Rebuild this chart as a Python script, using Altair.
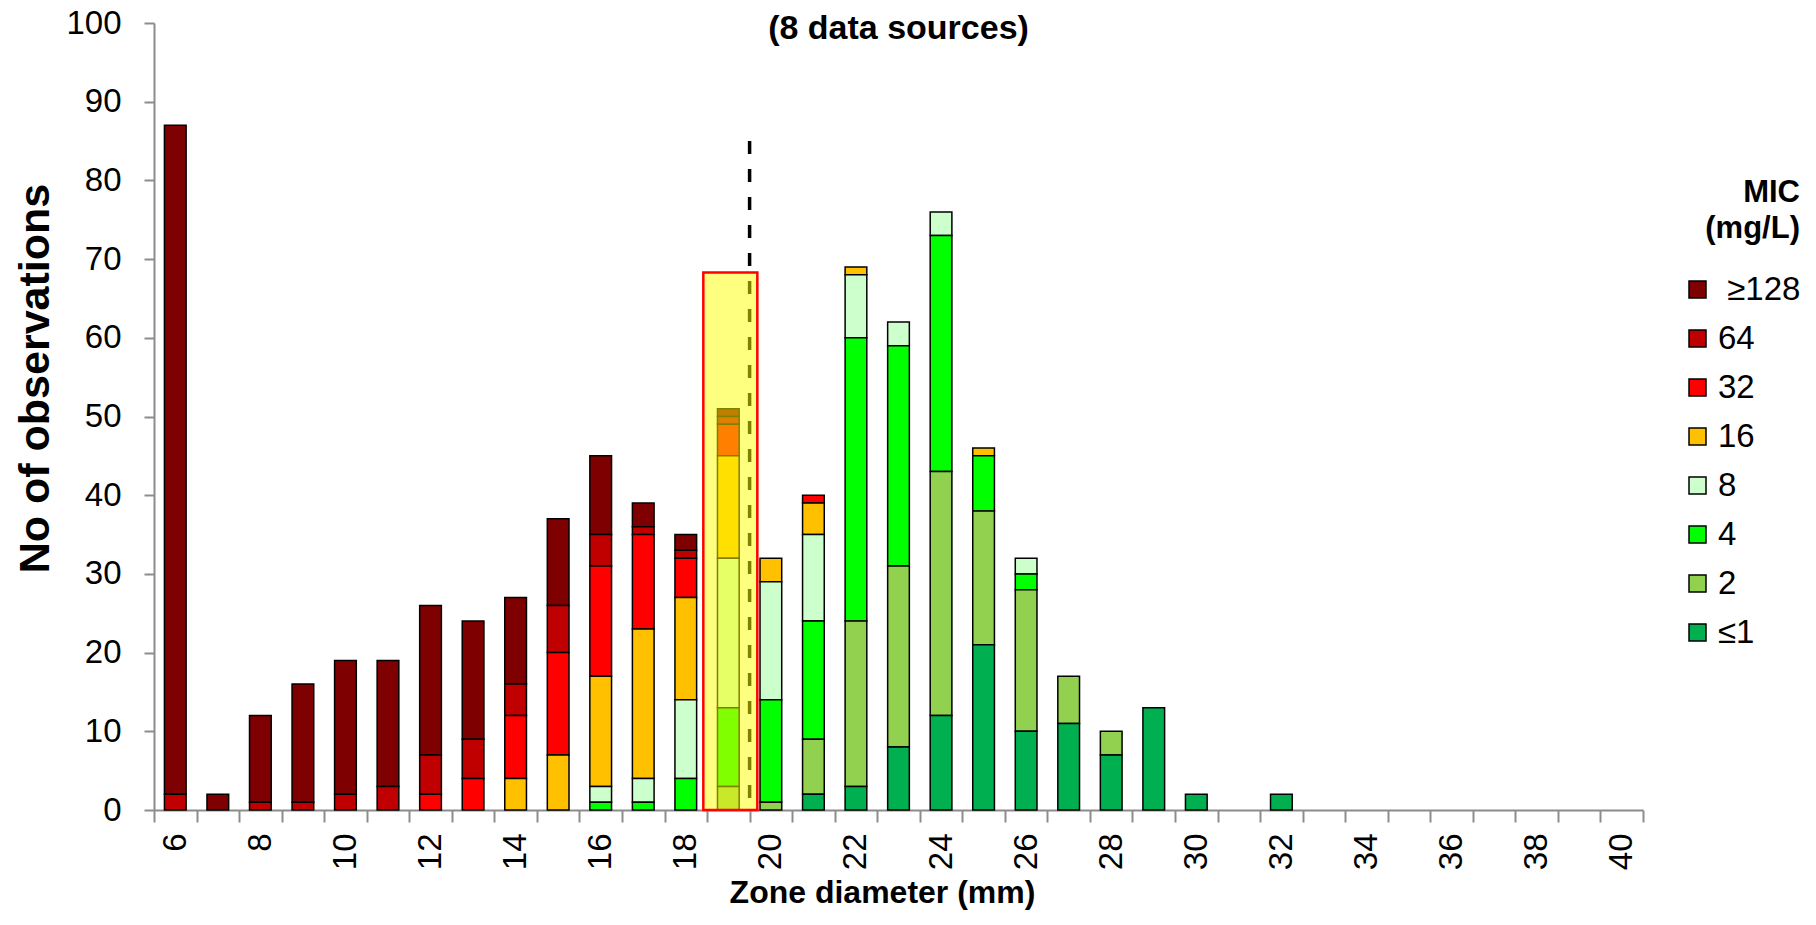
import altair as alt
import pandas as pd

# Zone diameters (mm)
diameters = list(range(6, 41))

# MIC categories (legend order, top to bottom) and colours
mic_labels = ["\u200d\u00a0≥128", "64", "32", "16", "8", "4", "2", "≤1"]
mic_colors = ["#7f0000", "#c00000", "#ff0000", "#ffc000", "#ccffcc", "#00ff00", "#92d050", "#00b050"]

# Counts per diameter 6..40 for each MIC category
n_ge128 = [85, 2, 11, 15, 17, 16, 19, 15, 11, 11, 10, 3, 2, 1, 0, 0, 0, 0, 0, 0, 0, 0, 0, 0, 0, 0, 0] + [0] * 8
n_64    = [2, 0, 1, 1, 2, 3, 5, 5, 4, 6, 4, 1, 1, 1, 0, 0, 0, 0, 0, 0, 0, 0, 0, 0, 0, 0, 0] + [0] * 8
n_32    = [0, 0, 0, 0, 0, 0, 2, 4, 8, 13, 14, 12, 5, 4, 0, 1, 0, 0, 0, 0, 0, 0, 0, 0, 0, 0, 0] + [0] * 8
n_16    = [0, 0, 0, 0, 0, 0, 0, 0, 4, 7, 14, 19, 13, 13, 3, 4, 1, 0, 0, 1, 0, 0, 0, 0, 0, 0, 0] + [0] * 8
n_8     = [0, 0, 0, 0, 0, 0, 0, 0, 0, 0, 2, 3, 10, 19, 15, 11, 8, 3, 3, 0, 2, 0, 0, 0, 0, 0, 0] + [0] * 8
n_4     = [0, 0, 0, 0, 0, 0, 0, 0, 0, 0, 1, 1, 4, 10, 13, 15, 36, 28, 30, 7, 2, 0, 0, 0, 0, 0, 0] + [0] * 8
n_2     = [0, 0, 0, 0, 0, 0, 0, 0, 0, 0, 0, 0, 0, 3, 1, 7, 21, 23, 31, 17, 18, 6, 3, 0, 0, 0, 0] + [0] * 8
n_le1   = [0, 0, 0, 0, 0, 0, 0, 0, 0, 0, 0, 0, 0, 0, 0, 2, 3, 8, 12, 21, 10, 11, 7, 13, 2, 0, 2] + [0] * 8

series = [n_ge128, n_64, n_32, n_16, n_8, n_4, n_2, n_le1]

# Breakpoint line and highlighted zone
breakpoint_diameter = [19]
breakpoint_top = [85]
highlight_diameter = [19]
highlight_top = [68.3]

rows = []
for label, vals in zip(mic_labels, series):
    stack_rank = len(mic_labels) - 1 - mic_labels.index(label)  # ≤1 at bottom
    for d, v in zip(diameters, vals):
        if v > 0:
            rows.append({"diameter": d, "mic": label, "count": v, "rank": stack_rank})
df = pd.DataFrame(rows)

x_scale = alt.Scale(domain=diameters, paddingInner=0, paddingOuter=0)
y_scale = alt.Scale(domain=[0, 100], nice=False)

x_axis = alt.Axis(
    title="Zone diameter (mm)",
    titleFontSize=32, titleFontWeight="bold", titlePadding=8, titleColor="black",
    titleX=728, titleAlign="center",
    labelAngle=270, labelFontSize=33, labelPadding=11, labelColor="black",
    labelExpr="datum.value % 2 == 0 ? datum.label : ''",
    tickBand="extent", tickSize=12, tickColor="#8c8c8c", tickWidth=2,
    domainColor="#8c8c8c", domainWidth=2, grid=False,
)
y_axis = alt.Axis(
    title="No of observations",
    titleFontSize=43, titleFontWeight="bold", titleColor="black",
    titleX=-119, titleY=355, titleAngle=270, titleAlign="center", titleBaseline="middle",
    values=list(range(0, 101, 10)), labelFontSize=33, labelPadding=23, labelColor="black",
    tickSize=10, tickColor="#8c8c8c", tickWidth=2,
    domainColor="#8c8c8c", domainWidth=2, grid=False,
)

bars = alt.Chart(df).mark_bar(
    width=alt.RelativeBandSize(0.51), stroke="black", strokeWidth=1.5
).encode(
    x=alt.X("diameter:O", scale=x_scale, axis=x_axis, sort=diameters),
    y=alt.Y("count:Q", stack="zero", scale=y_scale, axis=y_axis),
    color=alt.Color(
        "mic:N",
        scale=alt.Scale(domain=mic_labels, range=mic_colors),
        legend=alt.Legend(
            title=["MIC", "(mg/L)"], titleFontSize=31, titleFontWeight="bold",
            titleAlign="right", titleAnchor="end", titleLineHeight=36, titleColor="black",
            titlePadding=28,
            labelFontSize=33, labelColor="black", labelOffset=4,
            symbolType="square", symbolSize=289, symbolStrokeColor="black", symbolStrokeWidth=1.5,
            rowPadding=15, orient="none", legendX=1527, legendY=155,
        ),
    ),
    order=alt.Order("rank:Q", sort="ascending"),
)

rule_df = pd.DataFrame({"diameter": breakpoint_diameter, "top": breakpoint_top, "bottom": [0]})
rule = alt.Chart(rule_df).mark_rule(
    color="black", strokeWidth=3.5, strokeDash=[13, 15]
).encode(
    x=alt.X("diameter:O", scale=x_scale, bandPosition=1),
    y=alt.Y("top:Q", scale=y_scale),
    y2="bottom:Q",
)

hl_df = pd.DataFrame({"diameter": highlight_diameter, "top": highlight_top, "bottom": [0]})
highlight = alt.Chart(hl_df).mark_bar(
    width=alt.RelativeBandSize(1.27), fill="#ffff00", fillOpacity=0.5,
    stroke="#ff0000", strokeWidth=2.5, xOffset=2
).encode(
    x=alt.X("diameter:O", scale=x_scale),
    y=alt.Y("top:Q", scale=y_scale),
    y2="bottom:Q",
)

chart = alt.layer(bars, rule, highlight).properties(
    width=1489, height=787,
    title=alt.TitleParams(
        "(8 data sources)", fontSize=34, fontWeight="bold", anchor="middle",
        baseline="middle", dy=56, offset=0, color="black",
    ),
    autosize=alt.AutoSizeParams(type="none"),
    padding={"left": 154, "top": 23, "right": 173, "bottom": 115},
).configure(
    font="Liberation Sans"
).configure_view(
    stroke=None
)

chart.save("out.html", embed_options={"renderer": "svg", "actions": False})
